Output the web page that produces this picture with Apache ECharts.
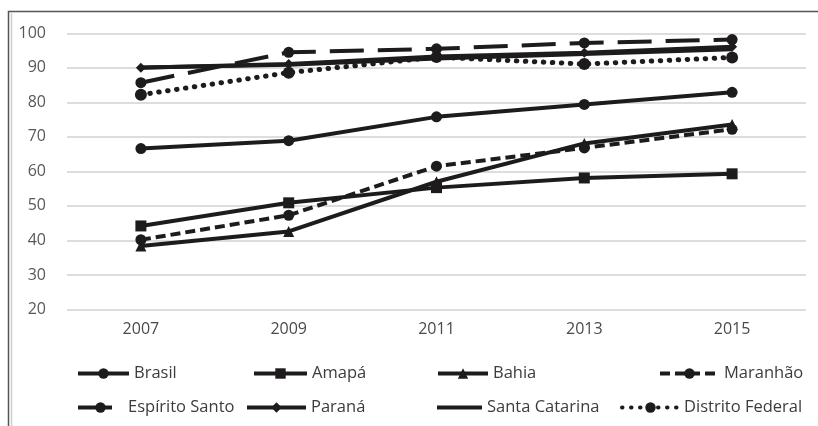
<!DOCTYPE html>
<html>
<head>
<meta charset="utf-8">
<script src="https://cdn.jsdelivr.net/npm/echarts@6/dist/echarts.min.js"></script>
<style>
  html, body { margin: 0; padding: 0; background: #fff; }
  #chart { width: 818px; height: 426px; }
</style>
</head>
<body>
<div id="chart"></div>
<script>
// Years on the horizontal axis
var years = ['2007', '2009', '2011', '2013', '2015'];

// Values per region (percent)
var brasil        = [66.6, 68.9, 75.8, 79.4, 82.9];
var amapa         = [44.2, 50.9, 55.3, 58.1, 59.3];
var bahia         = [38.4, 42.6, 57.0, 68.1, 73.6];
var maranhao      = [40.2, 47.3, 61.5, 66.8, 72.2];
var espiritoSanto = [85.7, 94.5, 95.5, 97.2, 98.2];
var parana        = [90.0, 91.1, 93.3, 94.4, 96.1];
var santaCatarina = [90.1, 90.9, 92.7, 94.0, 95.4];
var distritoFed   = [82.2, 88.6, 93.1, 91.1, 93.0];

// Value axis ticks
var yMin = 20, yMax = 100, yStep = 10;

var ink = '#1e1b1c';
var FONT = 'Open Sans';

function lineSeries(name, data, symbol, size, dash, width, cap) {
  return {
    name: name,
    type: 'line',
    data: data,
    symbol: symbol,
    symbolSize: size,
    showSymbol: symbol !== 'none',
    itemStyle: { color: ink, borderWidth: 0 },
    lineStyle: { color: ink, width: width || 4, type: dash || 'solid', cap: cap || 'butt' },
    emphasis: { disabled: true },
    animation: false
  };
}

var series = [
  lineSeries('Santa Catarina', santaCatarina, 'none', 0),
  lineSeries('Paraná', parana, 'diamond', 10),
  lineSeries('Brasil', brasil, 'circle', 11),
  lineSeries('Amapá', amapa, 'rect', 11),
  lineSeries('Bahia', bahia, 'triangle', 11),
  lineSeries('Maranhão', maranhao, 'circle', 11, [10, 5]),
  lineSeries('Espírito Santo', espiritoSanto, 'circle', 11, [34, 14]),
  lineSeries('Distrito Federal', distritoFed, 'circle', 12, [0.5, 8.5], 5, 'round')
];

// One legend block per entry, laid out in two rows of four
var legendSlots = [
  { name: 'Brasil',           left: 76,  top: 365, w: 51 },
  { name: 'Amapá',            left: 252, top: 365, w: 53 },
  { name: 'Bahia',            left: 436, top: 365, w: 50 },
  { name: 'Maranhão',         left: 658, top: 365, w: 59 },
  { name: 'Espírito Santo',   left: 76,  top: 399, w: 45 },
  { name: 'Paraná',           left: 245, top: 399, w: 59 },
  { name: 'Santa Catarina',   left: 437, top: 399, w: 45, icon: 'rect', h: 4 },
  { name: 'Distrito Federal', left: 620, top: 399, w: 57 }
];

var legends = legendSlots.map(function (s) {
  var item = { name: s.name };
  if (s.icon) item.icon = s.icon;
  return {
    data: [item],
    left: s.left,
    top: s.top,
    padding: 0,
    itemWidth: s.w,
    itemHeight: s.h || 13,
    selectedMode: false,
    lineStyle: { width: 4 },
    textStyle: { fontFamily: FONT, fontSize: 16.5, color: '#3c3c3c' }
  };
});

var chart = echarts.init(document.getElementById('chart'), null, { renderer: 'canvas' });
chart.setOption({
  backgroundColor: '#ffffff',
  animation: false,
  grid: { left: 67, right: 12, top: 33.3, bottom: 116.5 },
  legend: legends,
  xAxis: {
    type: 'category',
    data: years,
    boundaryGap: true,
    axisLine: { show: false },
    axisTick: { show: false },
    axisLabel: { margin: 12, fontFamily: FONT, fontSize: 16, color: '#4a4a4a' }
  },
  yAxis: {
    type: 'value',
    min: yMin,
    max: yMax,
    interval: yStep,
    axisLine: { show: false },
    axisTick: { show: false },
    axisLabel: { margin: 21, fontFamily: FONT, fontSize: 16, color: '#595959' },
    splitLine: { lineStyle: { color: '#d2d2d2', width: 1.6 } }
  },
  series: series,
  graphic: [
    {
      type: 'rect',
      silent: true,
      shape: { x: 8.5, y: 11.5, width: 830, height: 440 },
      style: { fill: 'none', stroke: '#555', lineWidth: 1.5 }
    },
    {
      type: 'line',
      silent: true,
      shape: { x1: 11.5, y1: 13, x2: 11.5, y2: 426 },
      style: { stroke: '#cfcfcf', lineWidth: 1.5 }
    }
  ]
});
</script>
</body>
</html>
